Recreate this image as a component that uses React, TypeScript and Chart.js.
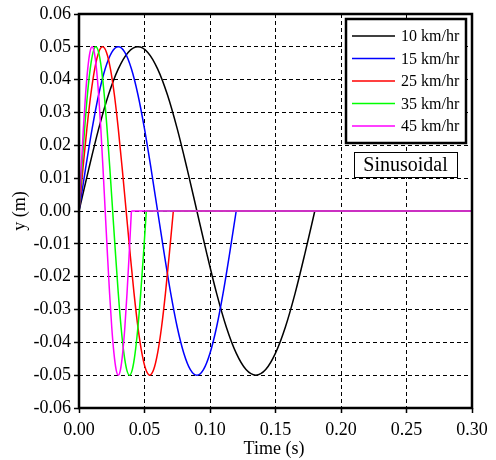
import React, { useEffect, useRef } from "react";
import { Chart, registerables } from "chart.js";

Chart.register(...registerables);

// Series: vehicle speeds and the period of each sinusoidal pulse (s)
const seriesLabels = ["10 km/hr", "15 km/hr", "25 km/hr", "35 km/hr", "45 km/hr"];
const seriesColors = ["#000000", "#0000ff", "#ff0000", "#00ff00", "#ff00ff"];
const periods = [0.18, 0.12, 0.072, 0.0514, 0.04];
const tEnd = 0.3;

// Sampled shape of the pulse: fraction of period and displacement (m)
const phase = [
  0, 0.0417, 0.0833, 0.125, 0.1667, 0.2083, 0.25, 0.2917, 0.3333, 0.375, 0.4167, 0.4583,
  0.5, 0.5417, 0.5833, 0.625, 0.6667, 0.7083, 0.75, 0.7917, 0.8333, 0.875, 0.9167, 0.9583, 1,
];
const profile = [
  0, 0.0129, 0.025, 0.0354, 0.0433, 0.0483, 0.05, 0.0483, 0.0433, 0.0354, 0.025, 0.0129,
  0, -0.0129, -0.025, -0.0354, -0.0433, -0.0483, -0.05, -0.0483, -0.0433, -0.0354, -0.025, -0.0129, 0,
];

// Axes
const xMin = 0, xMax = 0.3, xStep = 0.05;
const yMin = -0.06, yMax = 0.06, yStep = 0.01;
const xTitle = "Time (s)";
const yTitle = "y (m)";
const boxLabel = "Sinusoidal";

const FONT = "'Liberation Serif', 'Times New Roman', serif";

const overlay = {
  id: "overlay",
  afterDraw(chart: any) {
    const { ctx, chartArea } = chart;
    const { left, right, top, bottom } = chartArea;
    ctx.save();
    // frame
    ctx.strokeStyle = "#000";
    ctx.lineWidth = 2.5;
    ctx.setLineDash([]);
    ctx.strokeRect(left, top, right - left, bottom - top);

    // legend box
    const lx = 346, ly = 19, lw = 120, lh = 124;
    ctx.fillStyle = "#fff";
    ctx.fillRect(lx, ly, lw, lh);
    ctx.lineWidth = 2.5;
    ctx.strokeRect(lx, ly, lw, lh);
    ctx.font = "16px " + FONT;
    ctx.textBaseline = "middle";
    ctx.textAlign = "left";
    seriesLabels.forEach((lab, i) => {
      const y = 36 + i * 22.5;
      ctx.strokeStyle = seriesColors[i];
      ctx.lineWidth = 1.5;
      ctx.beginPath();
      ctx.moveTo(352, y);
      ctx.lineTo(395, y);
      ctx.stroke();
      ctx.fillStyle = "#000";
      ctx.fillText(lab, 401, y + 1);
    });

    // label box
    const bx = 354, by = 152, bw = 103, bh = 25;
    ctx.fillStyle = "#fff";
    ctx.fillRect(bx, by, bw, bh);
    ctx.strokeStyle = "#000";
    ctx.lineWidth = 1;
    ctx.strokeRect(bx + 0.5, by + 0.5, bw, bh);
    ctx.fillStyle = "#000";
    ctx.font = "20px " + FONT;
    ctx.textAlign = "center";
    ctx.fillText(boxLabel, bx + bw / 2, by + bh / 2 + 1);

    // axis titles
    ctx.font = "18px " + FONT;
    ctx.textAlign = "center";
    ctx.fillText(xTitle, 274, 449);
    ctx.translate(20, 211);
    ctx.rotate(-Math.PI / 2);
    ctx.fillText(yTitle, 0, 0);
    ctx.restore();
  },
};

export default function App() {
  const ref = useRef<HTMLCanvasElement | null>(null);
  useEffect(() => {
    if (!ref.current) return;
    const datasets: any[] = [];
    periods.forEach((T, i) => {
      datasets.push({
        label: seriesLabels[i],
        data: phase.map((p, k) => ({ x: p * T, y: profile[k] })),
        borderColor: seriesColors[i],
        borderWidth: 1.5,
        pointRadius: 0,
        cubicInterpolationMode: "monotone",
        order: periods.length - 1 - i,
      });
      datasets.push({
        label: seriesLabels[i] + " tail",
        data: [{ x: T, y: 0 }, { x: tEnd, y: 0 }],
        borderColor: seriesColors[i],
        borderWidth: 1.5,
        pointRadius: 0,
        tension: 0,
        order: periods.length - 1 - i,
      });
    });
    const gridCommon = {
      color: "#000",
      lineWidth: 1,
      tickLength: 5,
      tickColor: "#000",
      tickWidth: 1.5,
      tickBorderDash: [],
    };
    const chart = new Chart(ref.current, {
      type: "line",
      data: { datasets },
      plugins: [overlay],
      options: {
        animation: false,
        responsive: false,
        events: [],
        layout: { padding: { left: 0, top: 14, right: 24, bottom: 0 } },
        plugins: { legend: { display: false }, tooltip: { enabled: false } },
        scales: {
          x: {
            type: "linear",
            min: xMin,
            max: xMax,
            grid: gridCommon as any,
            border: { display: false, dash: [4, 3] } as any,
            ticks: {
              stepSize: xStep,
              color: "#000",
              padding: 6,
              maxRotation: 0,
              font: { family: FONT, size: 18 },
              callback: (v: any) => Number(v).toFixed(2),
            },
            afterFit: (s: any) => {
              s.height = 52;
            },
          },
          y: {
            type: "linear",
            min: yMin,
            max: yMax,
            grid: gridCommon as any,
            border: { display: false, dash: [4, 3] } as any,
            ticks: {
              stepSize: yStep,
              color: "#000",
              padding: 3,
              font: { family: FONT, size: 18 },
              callback: (v: any) => Number(v).toFixed(2),
            },
            afterFit: (s: any) => {
              s.width = 79;
            },
          },
        },
      } as any,
    });
    return () => chart.destroy();
  }, []);
  return (
    <div style={{ position: "absolute", left: 0, top: 0, width: 496, height: 460 }}>
      <canvas ref={ref} width={496} height={460} style={{ display: "block" }} />
    </div>
  );
}
